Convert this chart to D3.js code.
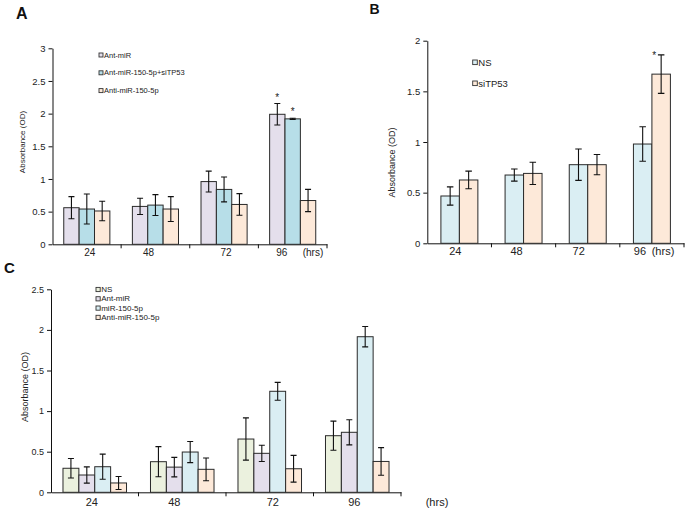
<!DOCTYPE html>
<html><head><meta charset="utf-8">
<script src="https://cdn.jsdelivr.net/npm/d3@7"></script>
<style>body{margin:0;background:#fff}svg{display:block}</style>
</head><body><svg id="chart" width="685" height="509"></svg>
<script>
// ---------------- data ----------------
const categories = ["24", "48", "72", "96"];
const unitLabel = "(hrs)";
const yTitle = "Absorbance (OD)";

// Panel A
const seriesA = ["Ant-miR", "Ant-miR-150-5p+siTP53", "Anti-miR-150-5p"];
const meanA_AntmiR = [0.56, 0.58, 0.96, 1.99];
const errA_AntmiR = [0.17, 0.125, 0.16, 0.165];
const meanA_AntmiR150siTP53 = [0.54, 0.60, 0.84, 1.92];
const errA_AntmiR150siTP53 = [0.23, 0.16, 0.19, 0.01];
const meanA_AntimiR150 = [0.51, 0.54, 0.61, 0.67];
const errA_AntimiR150 = [0.15, 0.19, 0.165, 0.17];
const ticksA = [0, 0.5, 1, 1.5, 2, 2.5, 3];
const starsA = [["Ant-miR", "96"], ["Ant-miR-150-5p+siTP53", "96"]];

// Panel B
const seriesB = ["NS", "siTP53"];
const meanB_NS = [0.467, 0.674, 0.776, 0.98];
const errB_NS = [0.09, 0.06, 0.155, 0.17];
const meanB_siTP53 = [0.625, 0.69, 0.776, 1.67];
const errB_siTP53 = [0.087, 0.11, 0.10, 0.19];
const ticksB = [0, 0.5, 1, 1.5, 2];
const starsB = [["siTP53", "96"]];

// Panel C
const seriesC = ["NS", "Ant-miR", "miR-150-5p", "Anti-miR-150-5p"];
const meanC_NS = [0.296, 0.377, 0.656, 0.697];
const errC_NS = [0.12, 0.185, 0.26, 0.18];
const meanC_AntmiR = [0.213, 0.31, 0.48, 0.739];
const errC_AntmiR = [0.10, 0.12, 0.10, 0.155];
const meanC_miR150 = [0.315, 0.496, 1.244, 1.916];
const errC_miR150 = [0.155, 0.13, 0.11, 0.125];
const meanC_AntimiR150 = [0.115, 0.283, 0.29, 0.38];
const errC_AntimiR150 = [0.08, 0.14, 0.165, 0.17];
const ticksC = [0, 0.5, 1, 1.5, 2, 2.5];
const starsC = [];

// ---------------- drawing ----------------
const svg = d3.select("#chart");
const FONT = "'Liberation Sans', Arial, sans-serif";
const NARROW = "'Liberation Sans Narrow', 'Liberation Sans', Arial, sans-serif";

function drawPanel(p) {
  const g = svg.append("g");
  const x = d3.scaleBand().domain(categories).range([p.left, p.right])
    .paddingInner(p.pad).paddingOuter(p.pad / 2);
  const xs = d3.scaleBand().domain(p.series).range([0, x.bandwidth()]);
  const y = d3.scaleLinear().domain([0, d3.max(p.ticks)]).range([p.bottom, p.top]);
  const color = d3.scaleOrdinal().domain(p.series).range(p.colors);

  // y axis
  const ya = g.append("g").attr("transform", `translate(${p.left},0)`)
    .call(d3.axisLeft(y).tickValues(p.ticks).tickSize(4).tickSizeOuter(0).tickPadding(3)
      .tickFormat(d => String(d)));
  ya.select(".domain").attr("stroke", "#111");
  ya.selectAll(".tick line").attr("stroke", "#111");
  ya.selectAll("text").attr("font-family", p.tickFont).attr("font-size", p.yTickSize).attr("fill", "#222");

  // x axis
  const xa = g.append("g").attr("transform", `translate(0,${p.bottom})`)
    .call(d3.axisBottom(x).tickSize(0).tickSizeOuter(0).tickPadding(0).tickFormat(""));
  xa.select(".domain").attr("stroke", "#111");
  categories.forEach(c => {
    const bx = x(c) + x.bandwidth() + x.step() * x.paddingInner() / 2;
    g.append("line").attr("x1", bx).attr("x2", bx).attr("y1", p.bottom).attr("y2", p.bottom + 4)
      .attr("stroke", "#111");
  });
  categories.forEach((c, i) => {
    g.append("text").attr("x", x(c) + x.bandwidth() / 2 + p.labelDx[i]).attr("y", p.bottom + p.labelGap)
      .attr("text-anchor", "middle").attr("dominant-baseline", "central")
      .attr("font-family", p.xFont).attr("font-size", p.xLabelSize).attr("fill", "#222").text(c);
  });
  g.append("text").attr("x", p.right + p.unitDx).attr("y", p.bottom + p.labelGap)
    .attr("text-anchor", "middle").attr("dominant-baseline", "central")
    .attr("font-family", p.xFont).attr("font-size", p.xLabelSize).attr("fill", "#222").text(unitLabel);

  // bars
  p.series.forEach((s, si) => {
    const vals = p.means[si], errs = p.errs[si];
    const gs = g.append("g");
    gs.selectAll("rect").data(categories).join("rect")
      .attr("x", c => x(c) + xs(s)).attr("width", xs.bandwidth())
      .attr("y", (c, i) => y(vals[i])).attr("height", (c, i) => y(0) - y(vals[i]))
      .attr("fill", color(s)).attr("stroke", "#2a2a2a").attr("stroke-width", 1);
    categories.forEach((c, i) => {
      const cx = x(c) + xs(s) + xs.bandwidth() / 2;
      const yt = y(vals[i] + errs[i]), yb = y(vals[i] - errs[i]);
      const cw = p.cap / 2;
      gs.append("path").attr("d", `M${cx},${yt}V${yb}M${cx - cw},${yt}H${cx + cw}M${cx - cw},${yb}H${cx + cw}`)
        .attr("stroke", "#111").attr("stroke-width", 1.1).attr("fill", "none");
    });
  });

  // significance stars
  p.stars.forEach(([s, c]) => {
    const si = p.series.indexOf(s), ci = categories.indexOf(c);
    const cx = x(c) + xs(s) + xs.bandwidth() / 2;
    const yt = y(p.means[si][ci] + p.errs[si][ci]);
    g.append("text").attr("x", cx + p.starDx).attr("y", yt + p.starDy)
      .attr("text-anchor", "middle").attr("font-family", FONT).attr("font-size", 10)
      .attr("fill", "#222").text("*");
  });

  // legend
  p.series.forEach((s, i) => {
    const ly = p.legend.y + i * p.legend.dy;
    const sz = p.legend.box;
    g.append("rect").attr("x", p.legend.x).attr("y", ly - sz / 2).attr("width", sz).attr("height", sz)
      .attr("fill", color(s)).attr("stroke", "#333").attr("stroke-width", 0.9);
    g.append("text").attr("x", p.legend.x + sz + 1).attr("y", ly).attr("dominant-baseline", "central")
      .attr("font-family", p.legend.font).attr("font-size", p.legend.size).attr("fill", "#222").text(s);
  });

  // y title
  g.append("text").attr("transform", `translate(${p.titleX},${p.titleY}) rotate(-90)`)
    .attr("text-anchor", "middle").attr("dominant-baseline", "central")
    .attr("font-family", FONT).attr("font-size", p.titleSize).attr("fill", "#222").text(yTitle);

  // panel letter
  svg.append("text").attr("x", p.letter[0]).attr("y", p.letter[1])
    .attr("font-family", FONT).attr("font-weight", "bold").attr("font-size", p.letter[2])
    .attr("fill", "#111").text(p.letter[3]);
}

drawPanel({
  series: seriesA,
  means: [meanA_AntmiR, meanA_AntmiR150siTP53, meanA_AntimiR150],
  errs: [errA_AntmiR, errA_AntmiR150siTP53, errA_AntimiR150],
  colors: ["#e4dfec", "#b7dee8", "#fde9d9"],
  ticks: ticksA, stars: starsA,
  left: 52.5, right: 327, top: 48.3, bottom: 244.3, pad: 0.328, cap: 6,
  tickFont: FONT, yTickSize: 9.5, xFont: FONT, xLabelSize: 10, labelGap: 8,
  labelDx: [3, -7, 2, -11], unitDx: -14, starDx: 0, starDy: -3,
  legend: { x: 99, y: 55, dy: 17.8, box: 4, size: 7.5, font: FONT },
  titleX: 22, titleY: 142, titleSize: 8,
  letter: [16, 18.5, 16, "A"]
});

drawPanel({
  series: seriesB,
  means: [meanB_NS, meanB_siTP53],
  errs: [errB_NS, errB_siTP53],
  colors: ["#daeef3", "#fde9d9"],
  ticks: ticksB, stars: starsB,
  left: 427.3, right: 684, top: 40.7, bottom: 243.3, pad: 0.424, cap: 6.5,
  tickFont: NARROW, yTickSize: 9.5, xFont: NARROW, xLabelSize: 11, labelGap: 8,
  labelDx: [-4, -7, -9, -12], unitDx: -21, starDx: -7, starDy: 4,
  legend: { x: 472.7, y: 62.3, dy: 21, box: 4.6, size: 9.5, font: FONT },
  titleX: 391.7, titleY: 162.5, titleSize: 9,
  letter: [369.5, 13.5, 14, "B"]
});

drawPanel({
  series: seriesC,
  means: [meanC_NS, meanC_AntmiR, meanC_miR150, meanC_AntimiR150],
  errs: [errC_NS, errC_AntmiR, errC_miR150, errC_AntimiR150],
  colors: ["#ebf1de", "#e4dfec", "#daeef3", "#fde9d9"],
  ticks: ticksC, stars: starsC,
  left: 51, right: 401, top: 289.3, bottom: 492.3, pad: 0.274, cap: 6,
  tickFont: NARROW, yTickSize: 9, xFont: NARROW, xLabelSize: 11, labelGap: 10,
  labelDx: [-3, -8, 3, -3], unitDx: 36, starDx: 0, starDy: -3,
  legend: { x: 96, y: 289.5, dy: 9.3, box: 4.2, size: 8, font: NARROW },
  titleX: 24.5, titleY: 387, titleSize: 9,
  letter: [4, 273, 15, "C"]
});
</script></body></html>
